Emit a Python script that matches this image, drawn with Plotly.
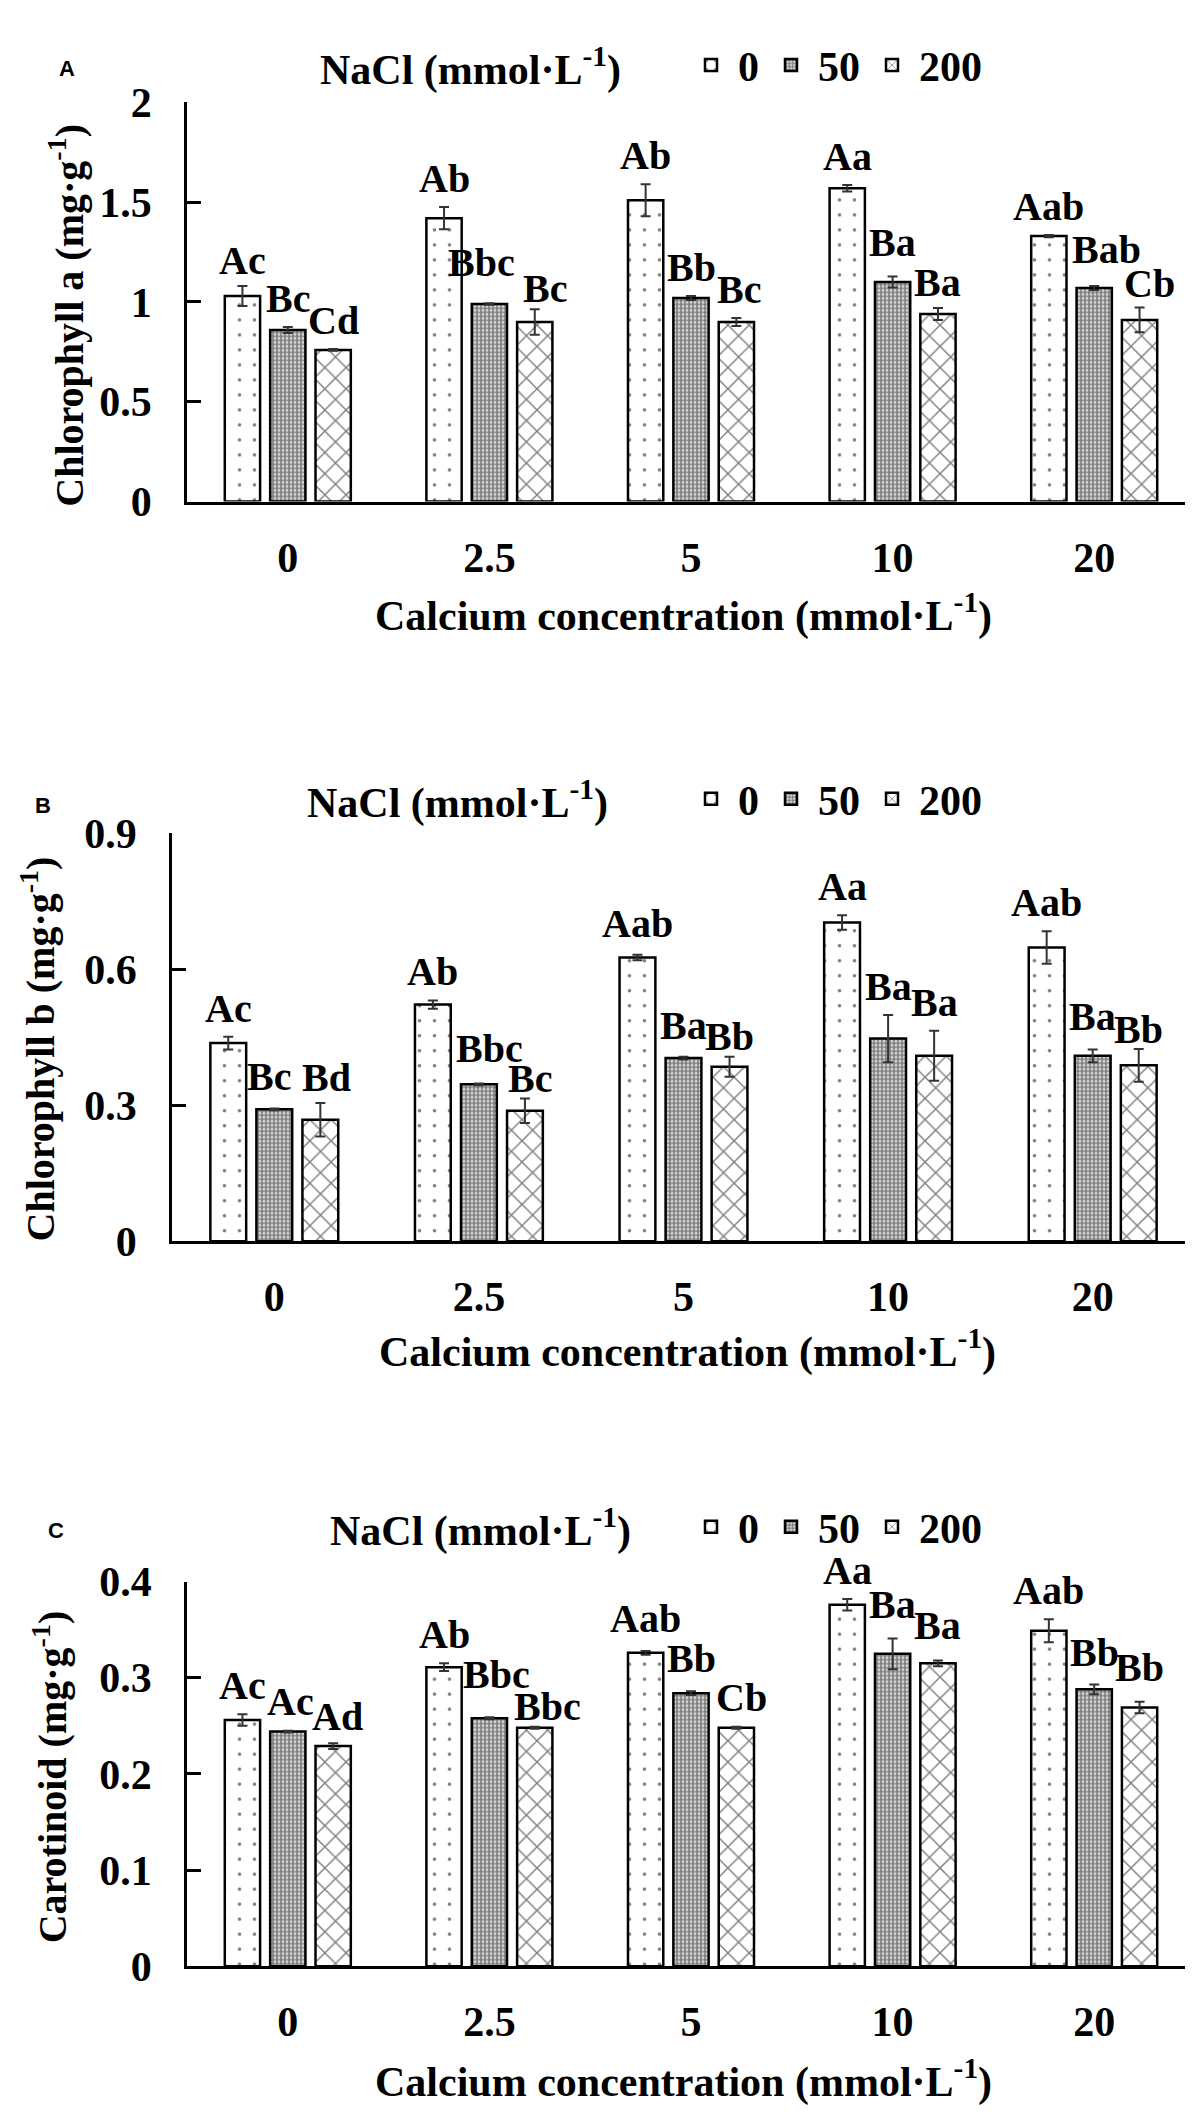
import plotly.graph_objects as go

# Calcium levels (x categories) and NaCl levels (series)
calcium = ["0", "2.5", "5", "10", "20"]
nacl = ["0", "50", "200"]

# Panel A: chlorophyll a (mg/g)
chla_vals = [
    [1.03, 1.42, 1.51, 1.57, 1.33],
    [0.86, 0.99, 1.02, 1.10, 1.07],
    [0.76, 0.90, 0.90, 0.94, 0.91],
]
chla_err = [
    [0.050, 0.056, 0.080, 0.016, 0.006],
    [0.015, 0.004, 0.010, 0.028, 0.010],
    [0.004, 0.064, 0.020, 0.030, 0.062],
]
chla_lab = [
    ["Ac", "Ab", "Ab", "Aa", "Aab"],
    ["Bc", "Bbc", "Bb", "Ba", "Bab"],
    ["Cd", "Bc", "Bc", "Ba", "Cb"],
]

# Panel B: chlorophyll b (mg/g)
chlb_vals = [
    [0.437, 0.522, 0.626, 0.703, 0.648],
    [0.291, 0.346, 0.404, 0.447, 0.409],
    [0.268, 0.288, 0.385, 0.409, 0.388],
]
chlb_err = [
    [0.014, 0.009, 0.006, 0.016, 0.036],
    [0.002, 0.002, 0.003, 0.052, 0.014],
    [0.037, 0.027, 0.022, 0.055, 0.036],
]
chlb_lab = [
    ["Ac", "Ab", "Aab", "Aa", "Aab"],
    ["Bc", "Bbc", "Ba", "Ba", "Ba"],
    ["Bd", "Bc", "Bb", "Ba", "Bb"],
]

# Panel C: carotinoid (mg/g)
car_vals = [
    [0.256, 0.311, 0.326, 0.376, 0.349],
    [0.244, 0.258, 0.284, 0.325, 0.288],
    [0.229, 0.248, 0.248, 0.315, 0.269],
]
car_err = [
    [0.006, 0.004, 0.002, 0.006, 0.012],
    [0.001, 0.001, 0.002, 0.016, 0.005],
    [0.003, 0.001, 0.001, 0.003, 0.006],
]
car_lab = [
    ["Ac", "Ab", "Aab", "Aa", "Aab"],
    ["Ac", "Bbc", "Bb", "Ba", "Bb"],
    ["Ad", "Bbc", "Cb", "Ba", "Bb"],
]

W, H = 1193, 2125
SERIF = "Times New Roman, Liberation Serif, serif"
SANS = "Arial, Liberation Sans, sans-serif"
FS = 42

# hand-placed letters in the original: (panel, series, group) -> (dx px, dy px)
label_nudge = {
    ("A", 0, 0): (0, -3),
    ("A", 1, 1): (-8, 12), ("A", 1, 3): (0, 5), ("A", 1, 4): (12, 8),
    ("A", 2, 1): (10, -8), ("A", 2, 2): (3, 0), ("A", 2, 3): (0, -3), ("A", 2, 4): (10, -4),
    ("B", 0, 2): (0, 3),
    ("B", 1, 0): (-5, 3), ("B", 1, 1): (11, 6), ("B", 1, 2): (0, 3), ("B", 1, 4): (0, 4),
    ("B", 2, 0): (6, -3), ("B", 2, 1): (5, -9), ("B", 2, 2): (0, -8), ("B", 2, 4): (0, -9),
    ("C", 0, 2): (0, 4),
    ("C", 1, 0): (3, 1), ("C", 1, 1): (7, 14), ("C", 1, 2): (0, 4), ("C", 1, 3): (0, 5), ("C", 1, 4): (0, 4),
    ("C", 2, 0): (4, -2), ("C", 2, 1): (13, -8), ("C", 2, 2): (5, 1), ("C", 2, 3): (0, 6), ("C", 2, 4): (0, 6),
}


def px(x):
    return x / W


def py(y):
    return 1 - y / H


patterns = [
    dict(shape=".", fgcolor="black", bgcolor="white", size=15, solidity=0.045),
    dict(shape=".", fgcolor="black", bgcolor="white", size=4, solidity=0.75),
    dict(shape="x", fgcolor="black", bgcolor="white", size=15, solidity=0.18),
]

panels = [
    dict(vals=chla_vals, err=chla_err, lab=chla_lab, ax="", xd=(179, 1187), yd=(74, 482),
         rng=[0, 2], dtick=0.5, leg="legend", letter="A", letter_pos=(59, 39),
         head_x=310, head_y=38, ytitle="Chlorophyll a (mg·g<sup>-1</sup>)", ytitle_pos=(59, 292),
         xtitle_pos=(675, 596), leg_y=36),
    dict(vals=chlb_vals, err=chlb_err, lab=chlb_lab, ax="2", xd=(164, 1187), yd=(821, 1238),
         rng=[0, 0.9], dtick=0.3, leg="legend2", letter="B", letter_pos=(35, 793),
         head_x=297, head_y=787, ytitle="Chlorophyll b (mg·g<sup>-1</sup>)", ytitle_pos=(30, 1042),
         xtitle_pos=(679, 1348), leg_y=786),
    dict(vals=car_vals, err=car_err, lab=car_lab, ax="3", xd=(179, 1187), yd=(1586, 1979),
         rng=[0, 0.4], dtick=0.1, leg="legend3", letter="C", letter_pos=(48, 1534),
         head_x=320, head_y=1531, ytitle="Carotinoid (mg·g<sup>-1</sup>)", ytitle_pos=(42, 1786),
         xtitle_pos=(675, 2094), leg_y=1530),
]

fig = go.Figure()
annotations = []
layout = {}

for p in panels:
    xa = "x" + p["ax"]
    ya = "y" + p["ax"]
    for j in range(3):
        fig.add_trace(go.Bar(
            x=calcium, y=p["vals"][j], name=nacl[j],
            xaxis=xa, yaxis=ya, legend=p["leg"],
            marker=dict(color="white", line=dict(color="black", width=2.5), pattern=patterns[j]),
            error_y=dict(type="data", array=p["err"][j], visible=True,
                         color="#333333", thickness=2, width=5),
        ))
        # significance letters sit on top of each error bar
        for i in range(len(calcium)):
            dx, dy = label_nudge.get((p["letter"], j, i), (0, 0))
            annotations.append(dict(
                x=i + (j - 1) * 0.225, y=p["vals"][j][i] + p["err"][j][i],
                xref=xa, yref=ya, text=p["lab"][j][i], showarrow=False,
                xanchor="center", yanchor="bottom", xshift=dx, yshift=4 + dy,
                font=dict(family=SERIF, size=40, color="black", weight="bold"),
            ))

    layout["xaxis" + p["ax"]] = dict(
        domain=[px(p["xd"][0]), px(p["xd"][1])], anchor=ya, type="category",
        showline=True, linecolor="black", linewidth=2.5, ticks="", showgrid=False,
        tickfont=dict(family=SERIF, size=FS, color="black", weight="bold"),
        ticklabelstandoff=17,
    )
    layout["yaxis" + p["ax"]] = dict(
        domain=[py(p["yd"][1]), py(p["yd"][0])], anchor=xa, range=p["rng"], dtick=p["dtick"],
        showline=True, linecolor="black", linewidth=2.5, ticks="inside", ticklen=14,
        tickwidth=2.5, tickcolor="black", showgrid=False, zeroline=False,
        tickfont=dict(family=SERIF, size=FS, color="black", weight="bold"),
        ticklabelstandoff=24,
    )
    layout[p["leg"]] = dict(
        orientation="h", x=px(676), xanchor="left", y=py(p["leg_y"]), yanchor="middle",
        font=dict(family=SERIF, size=FS, color="black", weight="bold"),
        bgcolor="rgba(0,0,0,0)", itemwidth=44, traceorder="normal",
    )

    annotations.append(dict(
        x=px(p["letter_pos"][0]), y=py(p["letter_pos"][1]), xref="paper", yref="paper",
        text=p["letter"], showarrow=False, xanchor="center", yanchor="middle",
        font=dict(family=SANS, size=22, color="black", weight="bold"),
    ))
    annotations.append(dict(
        x=px(p["head_x"]), y=py(p["head_y"]), xref="paper", yref="paper",
        text="NaCl (mmol·L<sup>-1</sup>)", showarrow=False, xanchor="left", yanchor="middle",
        font=dict(family=SERIF, size=FS, color="black", weight="bold"),
    ))
    annotations.append(dict(
        x=px(p["ytitle_pos"][0]), y=py(p["ytitle_pos"][1]), xref="paper", yref="paper",
        text=p["ytitle"], showarrow=False, textangle=-90, xanchor="center", yanchor="middle",
        font=dict(family=SERIF, size=40, color="black", weight="bold"),
    ))
    annotations.append(dict(
        x=px(p["xtitle_pos"][0]), y=py(p["xtitle_pos"][1]), xref="paper", yref="paper",
        text="Calcium concentration (mmol·L<sup>-1</sup>)", showarrow=False,
        xanchor="center", yanchor="middle",
        font=dict(family=SERIF, size=FS, color="black", weight="bold"),
    ))

fig.update_layout(
    width=W, height=H, autosize=False,
    margin=dict(l=0, r=0, t=0, b=0),
    paper_bgcolor="white", plot_bgcolor="white",
    barmode="group", bargap=0.325, bargroupgap=0.222,
    annotations=annotations,
    **layout,
)

fig.write_html("out.html")
